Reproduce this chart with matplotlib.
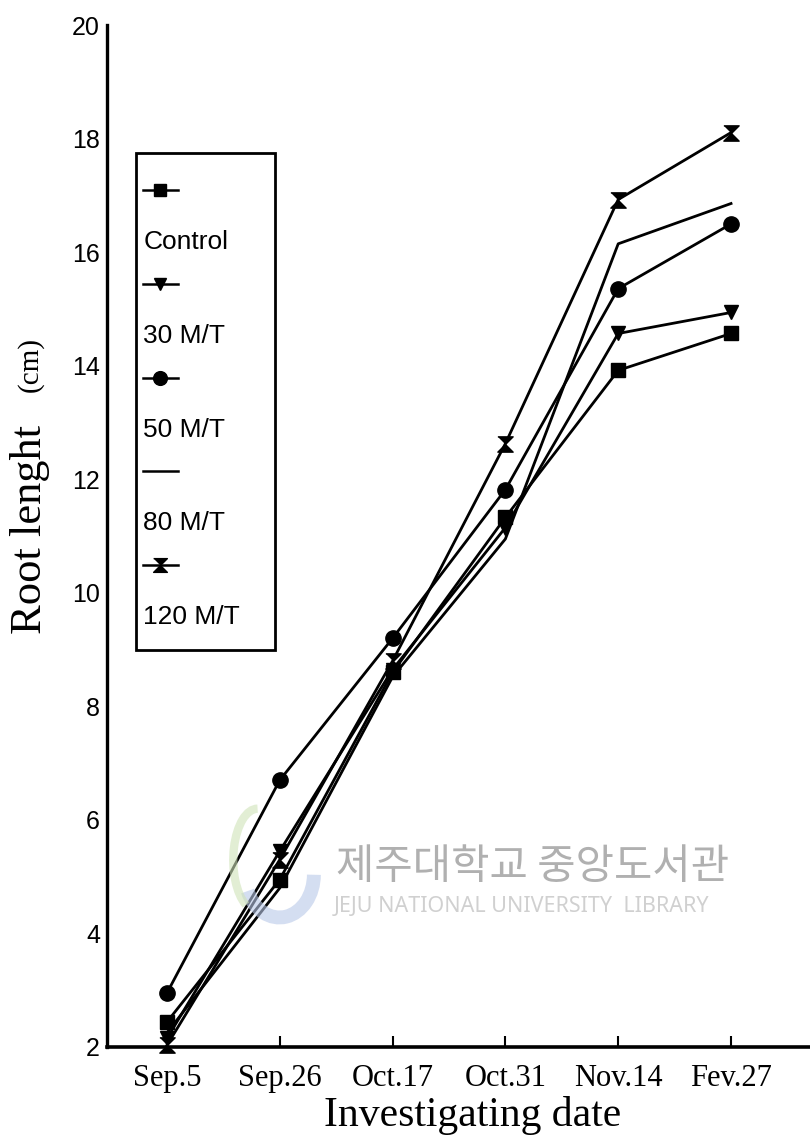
import numpy as np
import matplotlib.pyplot as plt
from matplotlib.patches import Rectangle, Arc
from matplotlib.lines import Line2D

# sampling dates and root length (cm) for each treatment
dates = ['Sep.5', 'Sep.26', 'Oct.17', 'Oct.31', 'Nov.14', 'Fev.27']
control = [2.44, 4.95, 8.60, 11.33, 13.92, 14.57]
mt30 = [2.15, 5.45, 8.65, 11.15, 14.57, 14.94]
mt50 = [2.95, 6.70, 9.20, 11.82, 15.36, 16.50]
mt80 = [2.25, 4.80, 8.52, 10.95, 16.15, 16.86]
mt120 = [2.03, 5.30, 8.80, 12.63, 16.93, 18.11]
names = ['Control', '30 M/T', '50 M/T', '80 M/T', '120 M/T']
yticks = [2, 4, 6, 8, 10, 12, 14, 16, 18, 20]

# hourglass marker for the 120 M/T series
hourglass = [(-1, 1), (1, 1), (0, 0), (1, -1), (-1, -1), (0, 0)]
markers = ['s', 'v', 'o', None, hourglass]
msizes = [10, 10, 11, 0, 11]

serif = ['Liberation Serif', 'DejaVu Serif']
narrow = ['Liberation Sans Narrow', 'Liberation Sans', 'DejaVu Sans']

fig = plt.figure(figsize=(8.1, 11.39), dpi=100)
ax = fig.add_axes([0.132, 0.0808, 0.868, 0.8970])

x = np.arange(len(dates))
series = [control, mt30, mt50, mt80, mt120]
for vals, mk, ms in zip(series, markers, msizes):
    ax.plot(x, vals, color='black', lw=2.0, marker=mk, markersize=ms,
            markerfacecolor='black', markeredgecolor='black', clip_on=False,
            zorder=3)

ax.set_xlim(-0.532, 5.70)
ax.set_ylim(2, 20)
ax.set_yticks(yticks)
ax.set_yticklabels([str(v) for v in yticks], family=narrow, fontsize=18)
ax.set_xticks(x)
ax.set_xticklabels(dates, family=serif, fontsize=22)
ax.tick_params(axis='x', direction='in', length=8, width=1.5, pad=12)
ax.tick_params(axis='y', length=0, pad=5)

for side in ['top', 'right']:
    ax.spines[side].set_visible(False)
ax.spines['left'].set_linewidth(2.4)
ax.spines['bottom'].set_linewidth(2.6)

ax.set_xlabel('Investigating date', family=serif, fontsize=30, labelpad=2)
ax.xaxis.set_label_coords(0.52, -0.048)
fig.text(0.037, 0.535, 'Root lenght', rotation=90, family=serif,
         fontsize=32, ha='center', va='center')
fig.text(0.037, 0.68, '(cm)', rotation=90, family=serif,
         fontsize=21, ha='center', va='center')

# legend box: each sample line sits above its label
box = Rectangle((0.168, 0.429), 0.172, 0.866 - 0.429, transform=fig.transFigure,
                fill=False, lw=2.0, edgecolor='black', zorder=4)
fig.patches.append(box)
y0 = 0.833
row_step = 0.0823
label_gap = 0.0455
for i, (name, mk, ms) in enumerate(zip(names, markers, msizes)):
    ym = y0 - i * row_step
    fig.add_artist(Line2D([0.177, 0.220], [ym, ym], transform=fig.transFigure,
                          color='black', lw=1.8))
    # marker drawn at the middle of the sample line
    if mk is not None:
        fig.add_artist(Line2D([0.198], [ym], transform=fig.transFigure,
                              color='black', marker=mk, markersize=ms * 0.9,
                              lw=0))
    fig.text(0.177, ym - label_gap, name, family=narrow, fontsize=19,
             ha='left', va='center')

# faint library watermark
fig.text(0.415, 0.238, '제주대학교 중앙도서관', family=['Noto Sans CJK KR'],
         fontsize=30, color='#b0b0b0', ha='left', va='center', zorder=0)
fig.text(0.412, 0.204, 'JEJU NATIONAL UNIVERSITY  LIBRARY',
         family=['Noto Sans', 'DejaVu Sans'], fontsize=15.5, color='#d0d0d0',
         ha='left', va='center', zorder=0)
fig.patches.append(Arc((0.345, 0.232), 0.085, 0.075, theta1=200, theta2=360,
                       transform=fig.transFigure, lw=10, color='#b8c8e8',
                       alpha=0.6, zorder=0))
fig.patches.append(Arc((0.318, 0.245), 0.06, 0.09, theta1=90, theta2=250,
                       transform=fig.transFigure, lw=6, color='#cfe3b8',
                       alpha=0.6, zorder=0))

fig.savefig('out.png', dpi=100)
